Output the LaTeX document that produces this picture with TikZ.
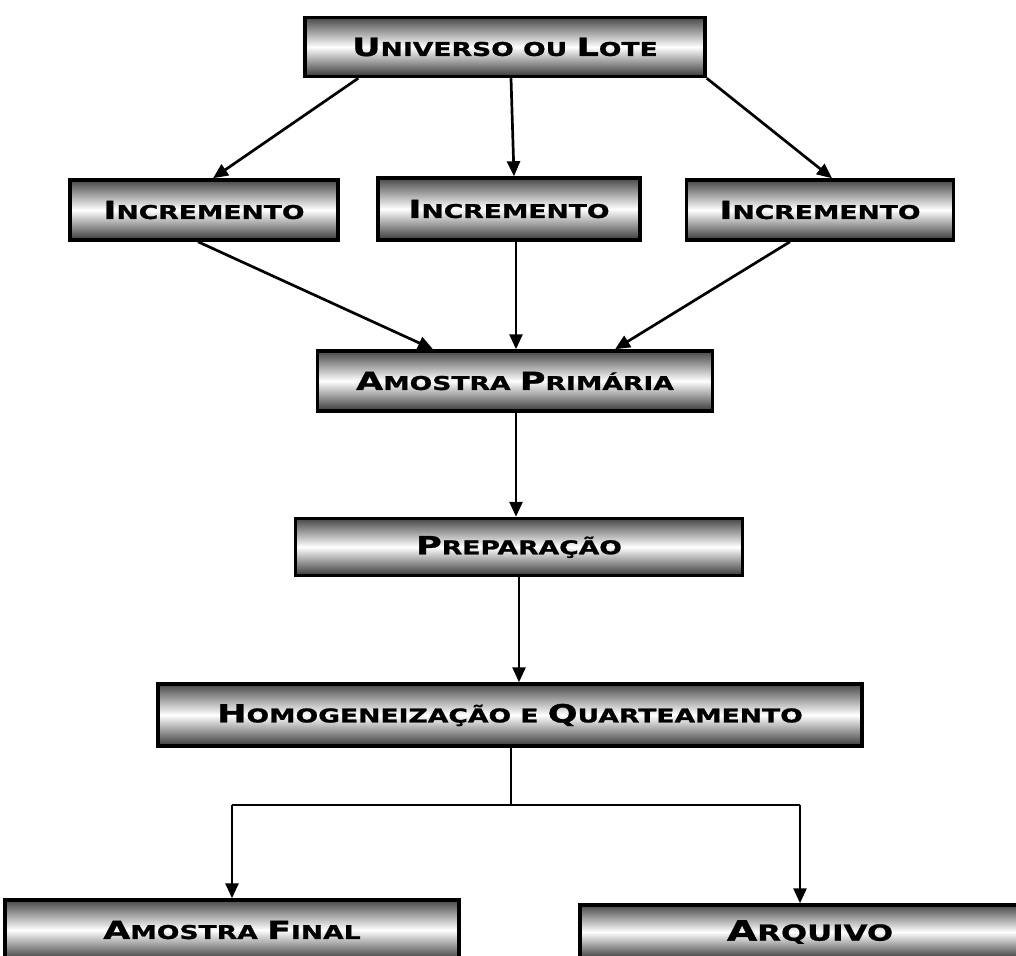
\documentclass[tikz,border=0pt]{standalone}
\usepackage{fontspec}
\newfontfamily\bxf{DejaVu Sans Bold}[FakeStretch=1.4,FakeBold=1.2]
\usetikzlibrary{arrows.meta,calc}
\newcommand\BL[1]{{\fontsize{25}{28}\selectfont #1}}
\newcommand\BLL[1]{{\fontsize{28}{30}\selectfont #1}}
\tikzset{
  box/.style={draw=black, line width=3.5pt, minimum width=#1, minimum height=60pt,
    inner sep=0pt, top color=black!72, bottom color=black!78, middle color=white,
    font=\bxf\fontsize{19}{22}\selectfont, text=black},
  arr/.style={line width=2.7pt, -{Triangle[length=15pt,width=13pt]}},
  ln/.style={line width=2.2pt}
}
\begin{document}
\begin{tikzpicture}[x=1pt,y=-1pt]
\clip (0,0) rectangle (1016,955);
\fill[white] (0,0) rectangle (1016,955);
\node[box=400pt, minimum height=59pt] (u) at (505,47) {\BL{U}NIVERSO OU \BL{L}OTE};
\node[box=268pt] (i1) at (204,210) {\BL{I}NCREMENTO};
\node[box=262pt, minimum height=62pt] (i2) at (509,209) {\BL{I}NCREMENTO};
\node[box=267pt] (i3) at (820,210) {\BL{I}NCREMENTO};
\node[box=395pt] (ap) at (515,381) {\BL{A}MOSTRA \BL{P}RIMÁRIA};
\node[box=447pt, minimum height=57pt] (pr) at (519,547) {\BL{P}REPARAÇÃO};
\node[box=704pt, minimum height=62pt] (hq) at (510,715) {\BL{H}OMOGENEIZAÇÃO E \BL{Q}UARTEAMENTO};
\node[box=454pt] (af) at (232,930) {\BL{A}MOSTRA \BL{F}INAL};
\node[box=460pt, minimum height=54pt] (ar) at (810,932) {\fontsize{22}{24}\selectfont\BLL{A}RQUIVO};

\draw[arr] ($(u.south west)+(55,0)$) -- ($(i1.north)+(9,0)$);
\draw[arr] ($(u.south)+(6,0)$) -- ($(i2.north)+(5,0)$);
\draw[arr] (u.south east) -- ($(i3.north)+(12,0)$);
\draw[arr] ($(i1.south)+(-6,0)$) -- ($(ap.north)+(-82,0)$);
\draw[arr] ($(i2.south)+(7,0)$) -- ($(ap.north)+(1,0)$);
\draw[arr] ($(i3.south)+(-30,0)$) -- ($(ap.north)+(100,0)$);
\draw[arr] ($(ap.south)+(1,0)$) -- ($(pr.north)+(-3,0)$);
\draw[arr] (pr.south) -- ($(hq.north)+(9,0)$);
\coordinate (j) at ($(hq.south)+(1,57)$);
\coordinate (hl) at (j -| af.north);
\coordinate (hr) at ($(j -| ar.north)+(-10,0)$);
\draw[ln] ($(hq.south)+(1,0)$) -- (j);
\draw[ln] (hl) -- (hr);
\draw[arr] (hl) -- (af.north);
\draw[arr] (hr) -- (hr |- ar.north);
\end{tikzpicture}
\end{document}
